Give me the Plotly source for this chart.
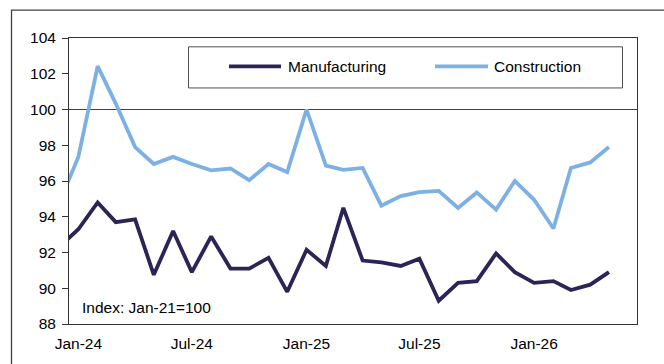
import plotly.graph_objects as go

months = ["2023-12-01",
          "2024-01-01", "2024-02-01", "2024-03-01", "2024-04-01", "2024-05-01", "2024-06-01",
          "2024-07-01", "2024-08-01", "2024-09-01", "2024-10-01", "2024-11-01", "2024-12-01",
          "2025-01-01", "2025-02-01", "2025-03-01", "2025-04-01", "2025-05-01", "2025-06-01",
          "2025-07-01", "2025-08-01", "2025-09-01", "2025-10-01", "2025-11-01", "2025-12-01",
          "2026-01-01", "2026-02-01", "2026-03-01", "2026-04-01", "2026-05-01"]

manufacturing = [92.3,
                 93.3, 94.8, 93.7, 93.85, 90.75, 93.2, 90.9, 92.9, 91.1, 91.1, 91.7, 89.8,
                 92.15, 91.25, 94.5, 91.55, 91.45, 91.25, 91.65, 89.3, 90.3, 90.4, 91.95, 90.9,
                 90.3, 90.4, 89.9, 90.2, 90.9]

construction = [94.75,
                97.35, 102.43, 100.33, 97.9, 96.95, 97.35, 96.95, 96.6, 96.7, 96.05, 96.95, 96.5,
                100.0, 96.86, 96.62, 96.73, 94.62, 95.16, 95.38, 95.45, 94.49, 95.36, 94.4, 96.0,
                94.95, 93.34, 96.73, 97.04, 97.9]

tick_vals = ["2024-01-01", "2024-07-01", "2025-01-01", "2025-07-01", "2026-01-01"]
tick_text = ["Jan-24", "Jul-24", "Jan-25", "Jul-25", "Jan-26"]

C_MAN = "#2B2456"
C_CON = "#7DB1E3"
FONT = "Liberation Sans, Arial, sans-serif"
FS = 15.5

fig = go.Figure()
fig.add_trace(go.Scatter(x=months, y=manufacturing, mode="lines", name="Manufacturing",
                         line=dict(color=C_MAN, width=3.8), showlegend=False))
fig.add_trace(go.Scatter(x=months, y=construction, mode="lines", name="Construction",
                         line=dict(color=C_CON, width=3.8), showlegend=False))

W, H = 664, 364
# plot area in page pixels
L, R, T, B = 69, 637, 38, 330
pw, ph = R - L, B - T

def px(x):
    return (x - L) / pw

def py(y):
    return (B - y) / ph

shapes = []
# outer frame
shapes.append(dict(type="rect", xref="paper", yref="paper",
                   x0=px(11.5), x1=px(700), y0=py(400), y1=py(9.5),
                   line=dict(color="#404040", width=1.3), fillcolor="rgba(0,0,0,0)", layer="below"))
# 100 reference line
shapes.append(dict(type="line", xref="paper", yref="y", x0=0, x1=1, y0=100, y1=100,
                   line=dict(color="#404040", width=1), layer="below"))
# legend box
shapes.append(dict(type="rect", xref="paper", yref="paper",
                   x0=px(188.5), x1=px(622.5), y0=py(89), y1=py(47),
                   line=dict(color="#505050", width=1), fillcolor="white", layer="above"))
# legend samples
shapes.append(dict(type="line", xref="paper", yref="paper", x0=px(229), x1=px(281),
                   y0=py(67), y1=py(67), line=dict(color=C_MAN, width=3.8), layer="above"))
shapes.append(dict(type="line", xref="paper", yref="paper", x0=px(435), x1=px(488),
                   y0=py(67), y1=py(67), line=dict(color=C_CON, width=3.8), layer="above"))

annotations = [
    dict(text="Manufacturing", xref="paper", yref="paper", x=px(286), y=py(67),
         xanchor="left", yanchor="middle", showarrow=False,
         font=dict(family=FONT, size=FS, color="black")),
    dict(text="Construction", xref="paper", yref="paper", x=px(492), y=py(67),
         xanchor="left", yanchor="middle", showarrow=False,
         font=dict(family=FONT, size=FS, color="black")),
    dict(text="Index: Jan-21=100", xref="paper", yref="paper", x=px(80), y=py(313),
         xanchor="left", yanchor="middle", showarrow=False,
         font=dict(family=FONT, size=FS, color="black")),
]

fig.update_layout(
    width=W, height=H,
    margin=dict(l=L, r=W - R, t=T, b=H - B, pad=0),
    paper_bgcolor="white", plot_bgcolor="white",
    font=dict(family=FONT, size=FS, color="black"),
    shapes=shapes, annotations=annotations,
    showlegend=False,
)
fig.update_xaxes(type="date", range=["2023-12-17", "2026-06-15"],
                 tickvals=tick_vals, ticktext=tick_text, ticks="",
                 ticklabelstandoff=5,
                 showgrid=False, zeroline=False,
                 showline=True, linecolor="#333333", linewidth=1, mirror=True,
                 tickfont=dict(family=FONT, size=FS, color="black"))
fig.update_yaxes(range=[88, 104], dtick=2, tick0=88, ticks="outside", ticklen=6,
                 ticklabelstandoff=3,
                 tickcolor="#333333", showgrid=False, zeroline=False,
                 showline=True, linecolor="#333333", linewidth=1, mirror=True,
                 tickfont=dict(family=FONT, size=FS, color="black"))

fig.write_html("out.html", config={"displayModeBar": False},
               post_script="document.body.style.margin='0';document.body.style.overflow='hidden';")
